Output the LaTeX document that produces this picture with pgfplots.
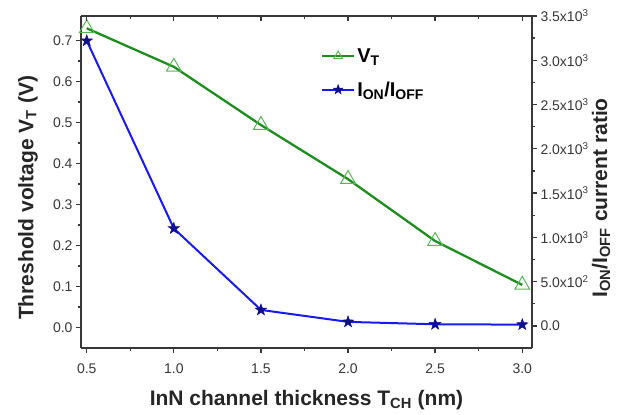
\documentclass[border=0pt]{standalone}
\usepackage{pgfplots}
\pgfplotsset{compat=1.18}
\usetikzlibrary{plotmarks}
\usepackage{fontspec}
\setmainfont{Liberation Sans}

\definecolor{vtgreen}{RGB}{30,140,30}
\definecolor{vtmark}{RGB}{90,180,90}
\definecolor{ratioblue}{RGB}{25,25,245}
\definecolor{starnavy}{RGB}{15,15,140}
\definecolor{axisgray}{RGB}{55,55,55}

% filled five-pointed star
\pgfdeclareplotmark{fstar}{%
  \pgfpathmoveto{\pgfpointpolar{90}{\pgfplotmarksize}}%
  \pgfpathlineto{\pgfpointpolar{126}{0.4\pgfplotmarksize}}%
  \pgfpathlineto{\pgfpointpolar{162}{\pgfplotmarksize}}%
  \pgfpathlineto{\pgfpointpolar{198}{0.4\pgfplotmarksize}}%
  \pgfpathlineto{\pgfpointpolar{234}{\pgfplotmarksize}}%
  \pgfpathlineto{\pgfpointpolar{270}{0.4\pgfplotmarksize}}%
  \pgfpathlineto{\pgfpointpolar{306}{\pgfplotmarksize}}%
  \pgfpathlineto{\pgfpointpolar{342}{0.4\pgfplotmarksize}}%
  \pgfpathlineto{\pgfpointpolar{18}{\pgfplotmarksize}}%
  \pgfpathlineto{\pgfpointpolar{54}{0.4\pgfplotmarksize}}%
  \pgfpathclose
  \pgfusepathqfillstroke
}

\pgfplotsset{
  common/.style={
    scale only axis, width=451pt, height=332pt,
    at={(0,0)}, anchor=south west,
    xmin=0.467, xmax=3.056,
    axis line style={axisgray, line width=1.8pt},
    every tick/.style={axisgray, line width=1.3pt},
    major tick length=5pt, minor tick length=3pt,
    tick label style={font=\fontsize{14}{16}\selectfont, text=axisgray},
    label style={font=\bfseries\fontsize{21}{24}\selectfont, text=black!85},
    xtick={0.5,1.0,1.5,2.0,2.5,3.0},
    minor x tick num=1,
  },
  vtstyle/.style={vtgreen, line width=2.3pt, mark=triangle,
    mark size=8.5pt, mark options={draw=vtmark, fill=white, line width=1pt, solid}},
  ratiostyle/.style={ratioblue, line width=2pt, mark=fstar,
    mark size=6pt, mark options={draw=starnavy, fill=starnavy, line width=0.5pt, solid}},
}

\begin{document}
\begin{tikzpicture}
\useasboundingbox (-81pt,-67pt) rectangle (543pt,348pt);

% left axis: threshold voltage
\begin{axis}[common,
  axis x line*=bottom, axis y line*=left, tick align=outside,
  ymin=-0.05, ymax=0.76,
  xticklabels={0.5,1.0,1.5,2.0,2.5,3.0},
  xticklabel style={yshift=-7pt},
  ytick={0,0.1,0.2,0.3,0.4,0.5,0.6,0.7},
  yticklabels={0.0,0.1,0.2,0.3,0.4,0.5,0.6,0.7},
  minor y tick num=1,
  xlabel={InN channel thickness T\textsubscript{CH} (nm)},
  xlabel style={at={(axis description cs:0.5,-0.1738)}, anchor=base},
  ylabel={Threshold voltage V\textsubscript{T} (V)},
  ylabel style={at={(axis description cs:-0.1058,0.452)}, anchor=base},
]
\addplot[vtstyle] coordinates {
  (0.5,0.730) (1.0,0.636) (1.5,0.494) (2.0,0.362) (2.5,0.211) (3.0,0.104)
};
\end{axis}

% right axis: on/off current ratio
\begin{axis}[common,
  axis x line=none, axis y line*=right, tick align=outside,
  ymin=-250, ymax=3500,
  ytick={0,500,1000,1500,2000,2500,3000,3500},
  yticklabels={0.0, 5.0x10\textsuperscript{2}, 1.0x10\textsuperscript{3},
    1.5x10\textsuperscript{3}, 2.0x10\textsuperscript{3}, 2.5x10\textsuperscript{3},
    3.0x10\textsuperscript{3}, 3.5x10\textsuperscript{3}},
  minor y tick num=1,
  ylabel={I\textsubscript{ON}/I\textsubscript{OFF} current ratio},
  ylabel style={at={(axis description cs:1.1663,0.452)}, anchor=base},
  legend style={at={(0.525,0.915)}, anchor=north west, draw=none, fill=none,
    font=\bfseries\fontsize{20}{22}\selectfont, row sep=14pt,
    /tikz/every even column/.append style={column sep=7pt}},
  legend cell align=left,
  legend image code/.code={%
    \draw[mark repeat=2, mark phase=2, #1, mark size=5pt]
      plot coordinates {(0pt,0pt) (16pt,0pt) (32pt,0pt)};},
]
\addlegendimage{vtstyle}
\addlegendentry{V\textsubscript{T}}
\addplot[ratiostyle] coordinates {
  (0.5,3220) (1.0,1100) (1.5,180) (2.0,45) (2.5,18) (3.0,14)
};
\addlegendentry{I\textsubscript{ON}/I\textsubscript{OFF}}
\end{axis}

% top frame line with inward ticks
\begin{axis}[common,
  axis x line*=top, axis y line=none, tick align=inside,
  ymin=0, ymax=1, xticklabels={},
]
\end{axis}
\end{tikzpicture}
\end{document}
